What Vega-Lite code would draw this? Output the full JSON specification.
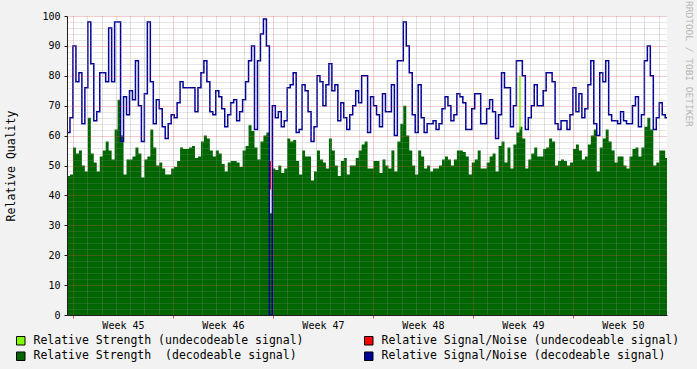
{
  "$schema": "https://vega.github.io/schema/vega-lite/v6.json",
  "width": 600,
  "height": 299,
  "autosize": "none",
  "padding": {"left": 67, "top": 16, "right": 30, "bottom": 54},
  "background": "#f2f2f2",
  "view": {"stroke": null, "fill": "#ffffff"},
  "title": {
    "text": "RRDTOOL / TOBI OETIKER",
    "orient": "right",
    "anchor": "start",
    "font": "DejaVu Sans Mono",
    "fontSize": 9.5,
    "fontWeight": "normal",
    "color": "#b4b4b4",
    "offset": 4,
    "dx": -10
  },
  "datasets": {
    "q": [
      {"h": -10, "sn": 61, "rs": 46.5}, {"h": -5, "sn": 66, "rs": 47}, {"h": 0, "sn": 90, "rs": 56}, {"h": 5, "sn": 78, "rs": 54},
      {"h": 10, "sn": 81, "rs": 55}, {"h": 15, "sn": 64, "rs": 50}, {"h": 20, "sn": 76, "rs": 48}, {"h": 25, "sn": 98, "rs": 66},
      {"h": 30, "sn": 84, "rs": 54}, {"h": 35, "sn": 65, "rs": 51}, {"h": 40, "sn": 68, "rs": 48}, {"h": 45, "sn": 81, "rs": 53},
      {"h": 50, "sn": 81, "rs": 55}, {"h": 55, "sn": 78, "rs": 58}, {"h": 60, "sn": 96, "rs": 55}, {"h": 65, "sn": 78, "rs": 52},
      {"h": 70, "sn": 98, "rs": 62}, {"h": 75, "sn": 98, "rs": 72}, {"h": 80, "sn": 58, "rs": 60}, {"h": 85, "sn": 73, "rs": 47},
      {"h": 90, "sn": 67, "rs": 52}, {"h": 95, "sn": 75, "rs": 52}, {"h": 100, "sn": 72, "rs": 53}, {"h": 105, "sn": 85, "rs": 56},
      {"h": 110, "sn": 70, "rs": 54}, {"h": 115, "sn": 58, "rs": 46}, {"h": 120, "sn": 74, "rs": 52}, {"h": 125, "sn": 98, "rs": 53},
      {"h": 130, "sn": 78, "rs": 62}, {"h": 135, "sn": 64, "rs": 56}, {"h": 140, "sn": 72, "rs": 50}, {"h": 145, "sn": 69, "rs": 51},
      {"h": 150, "sn": 63, "rs": 49}, {"h": 155, "sn": 59, "rs": 47}, {"h": 160, "sn": 64, "rs": 47}, {"h": 165, "sn": 67, "rs": 49},
      {"h": 170, "sn": 66, "rs": 49.5}, {"h": 175, "sn": 71, "rs": 51.5}, {"h": 180, "sn": 78, "rs": 56}, {"h": 185, "sn": 76, "rs": 55.5},
      {"h": 190, "sn": 76, "rs": 55.5}, {"h": 195, "sn": 76, "rs": 56}, {"h": 200, "sn": 76, "rs": 56.5}, {"h": 205, "sn": 68, "rs": 52.5},
      {"h": 210, "sn": 76, "rs": 53}, {"h": 215, "sn": 81, "rs": 58}, {"h": 220, "sn": 85, "rs": 60}, {"h": 225, "sn": 78, "rs": 59},
      {"h": 230, "sn": 68, "rs": 55}, {"h": 235, "sn": 67, "rs": 53}, {"h": 240, "sn": 75, "rs": 55}, {"h": 245, "sn": 73, "rs": 54},
      {"h": 250, "sn": 69, "rs": 50.5}, {"h": 255, "sn": 63, "rs": 48}, {"h": 260, "sn": 67, "rs": 51}, {"h": 265, "sn": 71, "rs": 51.5},
      {"h": 270, "sn": 72, "rs": 51.5}, {"h": 275, "sn": 65, "rs": 51}, {"h": 280, "sn": 68, "rs": 49.5}, {"h": 285, "sn": 72, "rs": 55},
      {"h": 290, "sn": 78, "rs": 56.5}, {"h": 295, "sn": 85, "rs": 63.5}, {"h": 300, "sn": 90, "rs": 61.5}, {"h": 305, "sn": 62, "rs": 56},
      {"h": 310, "sn": 85, "rs": 52}, {"h": 315, "sn": 94, "rs": 58}, {"h": 320, "sn": 99, "rs": 60}, {"h": 325, "sn": 90, "rs": 61},
      {"h": 330, "sn": 0, "rs": 34}, {"h": 335, "sn": 70, "rs": 49}, {"h": 340, "sn": 66, "rs": 48.5}, {"h": 345, "sn": 68, "rs": 50},
      {"h": 350, "sn": 63, "rs": 47.5}, {"h": 355, "sn": 65, "rs": 49}, {"h": 360, "sn": 76, "rs": 59}, {"h": 365, "sn": 77, "rs": 58},
      {"h": 370, "sn": 81, "rs": 58.5}, {"h": 375, "sn": 61, "rs": 51.5}, {"h": 380, "sn": 62, "rs": 47}, {"h": 385, "sn": 77, "rs": 55},
      {"h": 390, "sn": 75, "rs": 53}, {"h": 395, "sn": 68, "rs": 53}, {"h": 400, "sn": 58, "rs": 45}, {"h": 405, "sn": 63, "rs": 48},
      {"h": 410, "sn": 80, "rs": 55}, {"h": 415, "sn": 78, "rs": 52}, {"h": 420, "sn": 70, "rs": 51}, {"h": 425, "sn": 77, "rs": 49},
      {"h": 430, "sn": 84, "rs": 59}, {"h": 435, "sn": 75, "rs": 55}, {"h": 440, "sn": 77, "rs": 50}, {"h": 445, "sn": 65, "rs": 46.5},
      {"h": 450, "sn": 71, "rs": 51.5}, {"h": 455, "sn": 66, "rs": 52.5}, {"h": 460, "sn": 62, "rs": 47}, {"h": 465, "sn": 67, "rs": 50},
      {"h": 470, "sn": 70, "rs": 50}, {"h": 475, "sn": 75, "rs": 52.5}, {"h": 480, "sn": 71, "rs": 55}, {"h": 485, "sn": 80, "rs": 57},
      {"h": 490, "sn": 80, "rs": 58}, {"h": 495, "sn": 61, "rs": 49}, {"h": 500, "sn": 73, "rs": 49}, {"h": 505, "sn": 70, "rs": 51.5},
      {"h": 510, "sn": 67, "rs": 51.5}, {"h": 515, "sn": 63, "rs": 47.5}, {"h": 520, "sn": 74, "rs": 52}, {"h": 525, "sn": 68, "rs": 50},
      {"h": 530, "sn": 68, "rs": 49}, {"h": 535, "sn": 77, "rs": 55}, {"h": 540, "sn": 60, "rs": 48}, {"h": 545, "sn": 85, "rs": 58},
      {"h": 550, "sn": 85, "rs": 64}, {"h": 555, "sn": 98, "rs": 70}, {"h": 560, "sn": 90, "rs": 60}, {"h": 565, "sn": 81, "rs": 55},
      {"h": 570, "sn": 67, "rs": 50}, {"h": 575, "sn": 61, "rs": 47}, {"h": 580, "sn": 77, "rs": 55}, {"h": 585, "sn": 66, "rs": 53},
      {"h": 590, "sn": 61, "rs": 49}, {"h": 595, "sn": 64, "rs": 50}, {"h": 600, "sn": 64, "rs": 48}, {"h": 605, "sn": 65, "rs": 49},
      {"h": 610, "sn": 62, "rs": 49}, {"h": 615, "sn": 64, "rs": 50}, {"h": 620, "sn": 69, "rs": 52}, {"h": 625, "sn": 73, "rs": 53},
      {"h": 630, "sn": 70, "rs": 52}, {"h": 635, "sn": 65, "rs": 50}, {"h": 640, "sn": 67, "rs": 52}, {"h": 645, "sn": 74, "rs": 55},
      {"h": 650, "sn": 73, "rs": 55}, {"h": 655, "sn": 71, "rs": 54.5}, {"h": 660, "sn": 62, "rs": 53}, {"h": 665, "sn": 62, "rs": 47},
      {"h": 670, "sn": 69, "rs": 51}, {"h": 675, "sn": 74, "rs": 52}, {"h": 680, "sn": 74, "rs": 55}, {"h": 685, "sn": 64, "rs": 49},
      {"h": 690, "sn": 64, "rs": 49}, {"h": 695, "sn": 69, "rs": 51}, {"h": 700, "sn": 72, "rs": 53}, {"h": 705, "sn": 68, "rs": 54},
      {"h": 710, "sn": 59, "rs": 48}, {"h": 715, "sn": 67, "rs": 56.5}, {"h": 720, "sn": 81, "rs": 58}, {"h": 725, "sn": 76, "rs": 51},
      {"h": 730, "sn": 76, "rs": 56}, {"h": 735, "sn": 63, "rs": 49}, {"h": 740, "sn": 70, "rs": 57}, {"h": 745, "sn": 85, "rs": 61},
      {"h": 750, "sn": 85, "rs": 63}, {"h": 755, "sn": 80, "rs": 59}, {"h": 760, "sn": 62, "rs": 49}, {"h": 765, "sn": 66, "rs": 52},
      {"h": 770, "sn": 70, "rs": 54}, {"h": 775, "sn": 77, "rs": 56}, {"h": 780, "sn": 70, "rs": 53}, {"h": 785, "sn": 70, "rs": 53},
      {"h": 790, "sn": 75, "rs": 55.5}, {"h": 795, "sn": 81, "rs": 56}, {"h": 800, "sn": 81, "rs": 59}, {"h": 805, "sn": 78, "rs": 58},
      {"h": 810, "sn": 64, "rs": 50}, {"h": 815, "sn": 62, "rs": 51.5}, {"h": 820, "sn": 65, "rs": 52}, {"h": 825, "sn": 65, "rs": 51.5},
      {"h": 830, "sn": 62, "rs": 50}, {"h": 835, "sn": 67, "rs": 51}, {"h": 840, "sn": 76, "rs": 55.5}, {"h": 845, "sn": 68, "rs": 57},
      {"h": 850, "sn": 74, "rs": 55}, {"h": 855, "sn": 66, "rs": 52}, {"h": 860, "sn": 69, "rs": 53}, {"h": 865, "sn": 77, "rs": 57},
      {"h": 870, "sn": 85, "rs": 60}, {"h": 875, "sn": 64, "rs": 62}, {"h": 880, "sn": 60, "rs": 48}, {"h": 885, "sn": 81, "rs": 56},
      {"h": 890, "sn": 78, "rs": 59}, {"h": 895, "sn": 85, "rs": 62}, {"h": 900, "sn": 67, "rs": 58}, {"h": 905, "sn": 65, "rs": 55},
      {"h": 910, "sn": 65, "rs": 51}, {"h": 915, "sn": 64, "rs": 53}, {"h": 920, "sn": 68, "rs": 53}, {"h": 925, "sn": 65, "rs": 50},
      {"h": 930, "sn": 64, "rs": 49}, {"h": 935, "sn": 64, "rs": 53}, {"h": 940, "sn": 70, "rs": 55.5}, {"h": 945, "sn": 73, "rs": 56},
      {"h": 950, "sn": 63, "rs": 53}, {"h": 955, "sn": 67, "rs": 56}, {"h": 960, "sn": 85, "rs": 63}, {"h": 965, "sn": 90, "rs": 66},
      {"h": 970, "sn": 80, "rs": 62}, {"h": 975, "sn": 62, "rs": 50}, {"h": 980, "sn": 66, "rs": 51}, {"h": 985, "sn": 71, "rs": 55},
      {"h": 990, "sn": 67, "rs": 55}, {"h": 995, "sn": 66, "rs": 52.5}, {"h": 1000, "sn": 66, "rs": 52.5}
    ],
    "u": [
      {"h": 751, "lo": 62, "hi": 80, "series": "strength"},
      {"h": 331, "lo": 42, "hi": 51.5, "series": "sn"}
    ]
  },
  "layer": [
    {
      "data": {"name": "q"},
      "mark": {"type": "area", "interpolate": "step-after", "clip": true},
      "encoding": {
        "x": {
          "field": "h", "type": "quantitative",
          "scale": {"domain": [-10, 998], "nice": false, "zero": false},
          "axis": {
            "title": null,
            "values": [0, 24, 48, 72, 84, 96, 120, 144, 168, 192, 216, 240, 252, 264, 288, 312, 336, 360, 384, 408, 420, 432, 456, 480, 504, 528, 552, 576, 588, 600, 624, 648, 672, 696, 720, 744, 756, 768, 792, 816, 840, 864, 888, 912, 924, 936, 960, 984],
            "tickCount": 1000,
            "grid": true,
            "gridDash": [1, 1],
            "gridColor": {"condition": {"test": "datum.value % 168 === 0", "value": "#de4f4f"}, "value": "#8f8f8f"},
            "gridOpacity": {"condition": {"test": "datum.value % 24 === 0", "value": 0.55}, "value": 0},
            "tickColor": "#de4f4f",
            "tickSize": 3,
            "tickOpacity": {"condition": {"test": "datum.value % 168 === 0", "value": 1}, "value": 0},
            "labelExpr": "datum.value % 24 === 0 ? '' : 'Week ' + (45 + floor(datum.value / 168))",
            "labelFont": "DejaVu Sans Mono",
            "labelFontSize": 10,
            "labelColor": "#000000",
            "labelPadding": 2,
            "labelOverlap": false,
            "labelFlush": false,
            "domainColor": "#1f1f1f",
            "zindex": 1
          }
        },
        "y": {
          "field": "rs", "type": "quantitative",
          "scale": {"domain": [0, 100], "nice": false},
          "axis": {
            "title": "Relative Quality",
            "titleFont": "DejaVu Sans Mono",
            "titleFontSize": 11.5,
            "titleFontWeight": "normal",
            "titleColor": "#000000",
            "titlePadding": 25,
            "values": [0, 2, 4, 6, 8, 10, 12, 14, 16, 18, 20, 22, 24, 26, 28, 30, 32, 34, 36, 38, 40, 42, 44, 46, 48, 50, 52, 54, 56, 58, 60, 62, 64, 66, 68, 70, 72, 74, 76, 78, 80, 82, 84, 86, 88, 90, 92, 94, 96, 98, 100],
            "tickCount": 1000,
            "grid": true,
            "gridDash": [1, 1],
            "gridColor": {"condition": {"test": "datum.value % 10 === 0", "value": "#de4f4f"}, "value": "#8f8f8f"},
            "gridOpacity": {"condition": {"test": "datum.value % 10 === 0", "value": 0.6}, "value": 0.45},
            "tickColor": "#1f1f1f",
            "tickSize": 3,
            "tickOpacity": {"condition": {"test": "datum.value % 10 === 0", "value": 1}, "value": 0},
            "labelExpr": "datum.value % 10 === 0 ? '' + datum.value : ''",
            "labelFont": "DejaVu Sans Mono",
            "labelFontSize": 10,
            "labelColor": "#000000",
            "labelPadding": 4,
            "labelOverlap": false,
            "labelFlush": false,
            "domainColor": "#1f1f1f",
            "zindex": 1
          }
        },
        "color": {
          "datum": "Relative Strength\u00a0 (decodeable signal)",
          "type": "nominal",
          "scale": {
            "domain": ["Relative Strength (undecodeable signal)", "Relative Strength\u00a0 (decodeable signal)", "Relative Signal/Noise (undecodeable signal)", "Relative Signal/Noise (decodeable signal)"],
            "range": ["#7fff00", "#006600", "#ff0000", "#000099"]
          },
          "legend": {
            "title": null,
            "orient": "none",
            "legendX": -52,
            "legendY": 319,
            "columns": 2,
            "columnPadding": 58,
            "rowPadding": 2.5,
            "padding": 0,
            "symbolType": "square",
            "symbolSize": 72,
            "symbolOpacity": 1,
            "symbolStrokeColor": "#000000",
            "symbolStrokeWidth": 1,
            "labelFont": "DejaVu Sans Mono",
            "labelFontSize": 11.5,
            "labelColor": "#000000",
            "labelOffset": 7,
            "labelLimit": 0
          }
        }
      }
    },
    {
      "data": {"name": "u"},
      "transform": [{"filter": "datum.series === 'strength'"}],
      "mark": {"type": "rule", "color": "#7fff00", "strokeWidth": 1.5, "clip": true},
      "encoding": {
        "x": {"field": "h", "type": "quantitative", "scale": {"domain": [-10, 998], "nice": false, "zero": false}},
        "y": {"field": "lo", "type": "quantitative", "scale": {"domain": [0, 100], "nice": false}},
        "y2": {"field": "hi"}
      }
    },
    {
      "data": {"name": "u"},
      "transform": [{"filter": "datum.series === 'sn'"}],
      "mark": {"type": "rule", "color": "#ff0000", "strokeWidth": 2, "clip": true},
      "encoding": {
        "x": {"field": "h", "type": "quantitative", "scale": {"domain": [-10, 998], "nice": false, "zero": false}},
        "y": {"field": "lo", "type": "quantitative", "scale": {"domain": [0, 100], "nice": false}},
        "y2": {"field": "hi"}
      }
    },
    {
      "data": {"name": "q"},
      "mark": {"type": "line", "interpolate": "step-after", "color": "#000099", "strokeWidth": 1.5, "clip": true},
      "encoding": {
        "x": {"field": "h", "type": "quantitative", "scale": {"domain": [-10, 998], "nice": false, "zero": false}},
        "y": {"field": "sn", "type": "quantitative", "scale": {"domain": [0, 100], "nice": false}}
      }
    }
  ]
}
